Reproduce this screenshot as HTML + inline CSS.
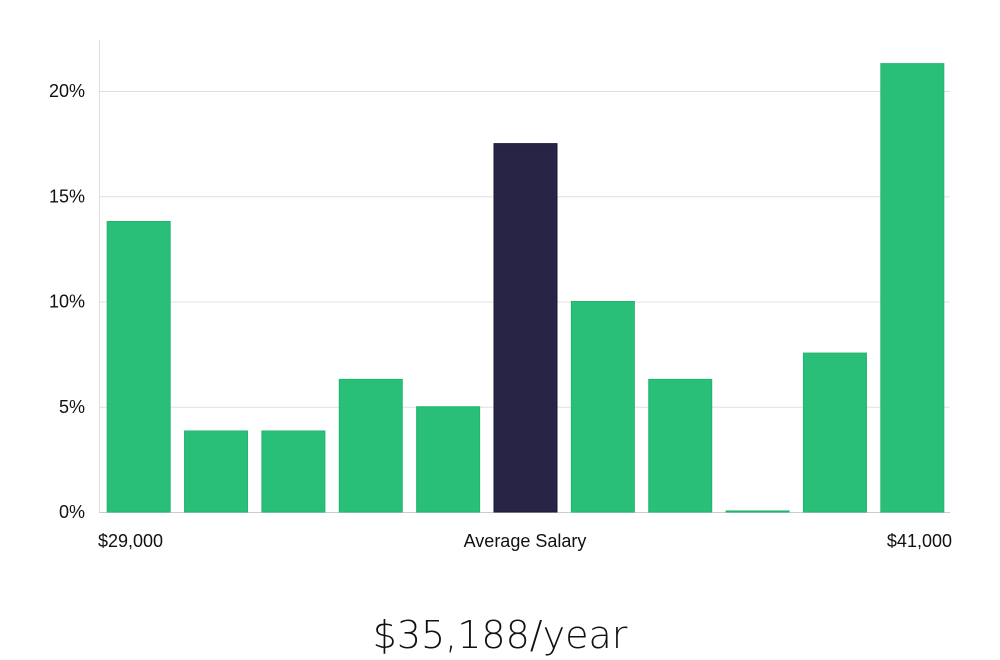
<!DOCTYPE html>
<html><head><meta charset="utf-8"><style>
body{margin:0;background:#fff;font-family:"Liberation Sans","DejaVu Sans",sans-serif;}
svg{display:block}
</style></head><body>
<svg width="1000" height="660">
<g id="grid"></g><g id="bars"></g><g id="ylabels"></g>
<line x1="99.5" y1="40" x2="99.5" y2="512" stroke="#ddd"/>
<text x="98" y="547" font-size="18" fill="#111">$29,000</text>
<text x="525" y="547" font-size="18" fill="#111" text-anchor="middle">Average Salary</text>
<text x="952" y="547" font-size="18" fill="#111" text-anchor="end">$41,000</text>
<text x="500" y="648" font-size="38" fill="#111" text-anchor="middle" font-family="'DejaVu Sans',sans-serif" font-weight="300">$35,188/year</text>
</svg>
<script>
const categories=["b1","b2","b3","b4","b5","b6","b7","b8","b9","b10","b11"];
const values=[13.8,3.85,3.85,6.3,5.0,17.5,10.0,6.3,0.05,7.55,21.3];
const highlight=[false,false,false,false,false,true,false,false,false,false,false];
const yTicks=[0,5,10,15,20];
const yTickLabels=["0%","5%","10%","15%","20%"];
const NS="http://www.w3.org/2000/svg";
const x0=99,x1=950,y0=512,pxPer=105.25/5;
const y=v=>y0-v*pxPer;
const step=(x1-x0)/categories.length;
const grid=document.getElementById('grid'),bars=document.getElementById('bars'),yl=document.getElementById('ylabels');
yTicks.forEach((t,i)=>{
 const l=document.createElementNS(NS,'line');
 l.setAttribute('x1',x0);l.setAttribute('x2',x1);l.setAttribute('y1',y(t)+0.5);l.setAttribute('y2',y(t)+0.5);
 l.setAttribute('stroke',i==0?'#ccc':'#e0e0e0');
 
 
 grid.appendChild(l);
 const tx=document.createElementNS(NS,'text');
 tx.setAttribute('x',85);tx.setAttribute('y',y(t)+6);tx.setAttribute('text-anchor','end');
 tx.setAttribute('font-size','18');tx.setAttribute('fill','#111');tx.textContent=yTickLabels[i];
 
 
 yl.appendChild(tx);
});
values.forEach((v,i)=>{
 const r=document.createElementNS(NS,'rect');
 const bw=63;
 r.setAttribute('x',x0+i*step+(step-bw)/2+1);r.setAttribute('width',bw);
 const h=Math.max(1,v*pxPer);
 r.setAttribute('y',y0-h);r.setAttribute('height',h);
 r.setAttribute('fill',highlight[i]?'#282446':'#2abf78');
 r.setAttribute('stroke',highlight[i]?'#1a1733':'#22b56e');
 
 
 bars.appendChild(r);
});
</script>
</body></html>
